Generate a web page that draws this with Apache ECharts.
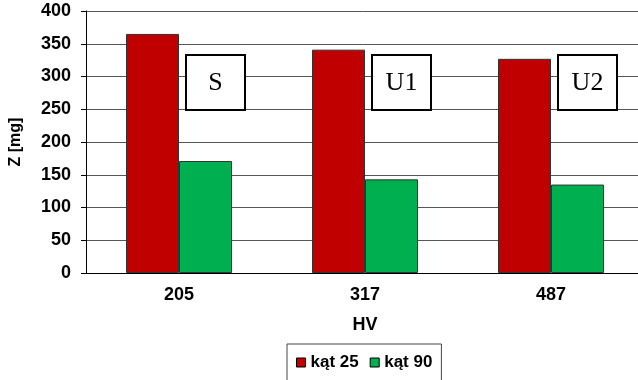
<!DOCTYPE html>
<html>
<head>
<meta charset="utf-8">
<script src="https://cdn.jsdelivr.net/npm/echarts@6/dist/echarts.min.js"></script>
<style>
  html, body { margin: 0; padding: 0; background: #fff; }
  #chart { width: 638px; height: 380px; }
</style>
</head>
<body>
<div id="chart"></div>
<script>
// data
const categories = ['205', '317', '487'];
const kat25 = [365, 341, 327];
const kat90 = [171, 143, 135];
const seriesNames = ['kąt 25', 'kąt 90'];
const boxLabels = ['S', 'U1', 'U2'];
const boxTopValue = 333; // top edge of the label boxes, in axis units

const chart = echarts.init(document.getElementById('chart'));
const font = '"Liberation Sans", Arial, sans-serif';

const option = {
  animation: false,
  grid: { left: 86, right: -6, top: 11, bottom: 107, containLabel: false, outerBoundsMode: 'none' },
  legend: {
    data: seriesNames,
    left: 287,
    top: 344,
    padding: [10, 9, 20, 9],
    itemWidth: 9,
    itemHeight: 9,
    itemGap: 11,
    icon: 'rect',
    borderColor: '#444',
    borderWidth: 1,
    itemStyle: { borderColor: '#000', borderWidth: 1 },
    textStyle: { fontFamily: font, fontWeight: 'bold', fontSize: 17, color: '#000' }
  },
  xAxis: {
    type: 'category',
    data: categories,
    name: 'HV',
    nameLocation: 'middle',
    nameGap: 43,
    nameTextStyle: { fontFamily: font, fontWeight: 'bold', fontSize: 18, color: '#000' },
    axisLine: { lineStyle: { color: '#000', width: 1 } },
    axisTick: { length: 5, lineStyle: { color: '#000' } },
    axisLabel: { margin: 13, fontFamily: font, fontWeight: 'bold', fontSize: 18, color: '#000' }
  },
  yAxis: {
    type: 'value',
    min: 0,
    max: 400,
    interval: 50,
    name: 'Z [mg]',
    nameLocation: 'middle',
    nameGap: 62,
    nameTextStyle: { fontFamily: font, fontWeight: 'bold', fontSize: 16, color: '#000' },
    axisLine: { show: true, lineStyle: { color: '#000', width: 1 } },
    axisTick: { show: true, length: 5, lineStyle: { color: '#000' } },
    axisLabel: { margin: 15, fontFamily: font, fontWeight: 'bold', fontSize: 18, color: '#000' },
    splitLine: { lineStyle: { color: '#555', width: 1 } }
  },
  series: [
    {
      name: seriesNames[0],
      type: 'bar',
      data: kat25,
      barWidth: 53,
      barGap: '0%',
      itemStyle: { color: '#C00000', borderColor: '#333', borderWidth: 1 }
    },
    {
      name: seriesNames[1],
      type: 'bar',
      data: kat90,
      barWidth: 53,
      barGap: '0%',
      itemStyle: { color: '#00B050', borderColor: '#333', borderWidth: 1 }
    }
  ]
};

chart.setOption(option);

// label boxes placed next to each group through the axis scales
const boxes = boxLabels.map((t, i) => {
  const p = chart.convertToPixel({ gridIndex: 0 }, [i, boxTopValue]);
  return {
    type: 'group',
    x: p[0] + 7,
    y: p[1],
    children: [
      {
        type: 'rect',
        shape: { x: 0, y: 0, width: 59, height: 55 },
        style: { fill: '#fff', stroke: '#000', lineWidth: 2 }
      },
      {
        type: 'text',
        x: 29.5,
        y: 28,
        style: {
          text: t,
          fontFamily: '"Liberation Serif", "Times New Roman", serif',
          fontSize: 26,
          fill: '#000',
          align: 'center',
          verticalAlign: 'middle'
        }
      }
    ]
  };
});
chart.setOption({ graphic: boxes });
</script>
</body>
</html>
